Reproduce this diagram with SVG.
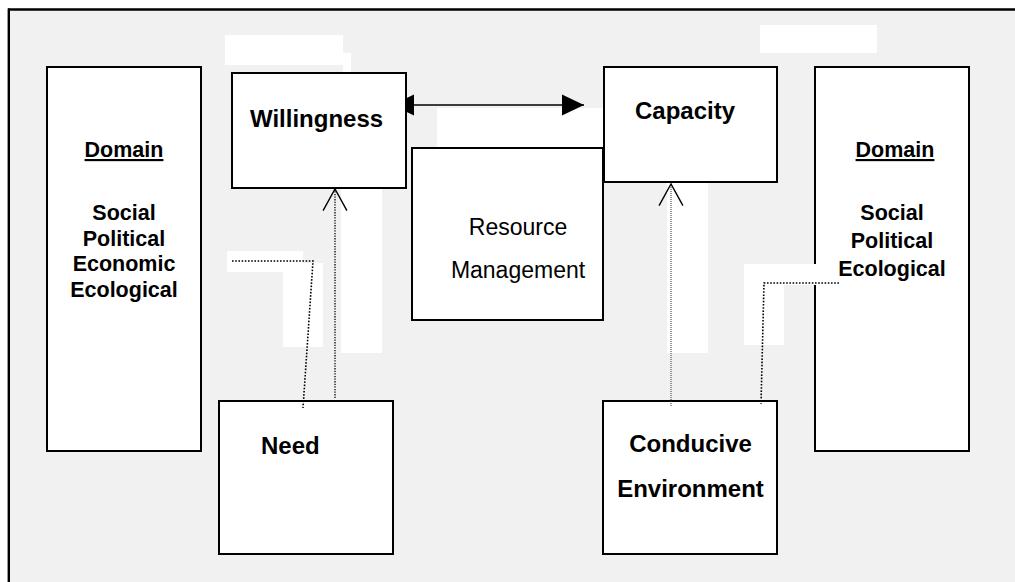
<svg xmlns="http://www.w3.org/2000/svg" width="1015" height="582" viewBox="0 0 1015 582">
  <style>
    .box { fill: #ffffff; stroke: #000000; stroke-width: 2; }
    .pad { fill: #ffffff; stroke: none; }
    .lbl { font-family: "Liberation Sans", Arial, sans-serif; font-weight: bold; font-size: 24px; fill: #000000; }
    .dom { font-family: "Liberation Sans", Arial, sans-serif; font-weight: bold; font-size: 21.5px; fill: #000000; text-anchor: middle; }
    .reg { font-family: "Liberation Sans", Arial, sans-serif; font-size: 23px; fill: #000000; text-anchor: middle; }
    .dot { fill: none; stroke: #000000; stroke-width: 1.6; stroke-dasharray: 1.6 1.6; }
    .dotfine { fill: none; stroke: #000000; stroke-width: 1.3; stroke-dasharray: 1.3 1.3; }
    .dotthin { fill: none; stroke: #333333; stroke-width: 1; stroke-dasharray: 1 1; }
    .solid { fill: none; stroke: #000000; stroke-width: 1.5; }
  </style>
  <defs>
    <marker id="solidHead" markerUnits="userSpaceOnUse" markerWidth="22" markerHeight="22" viewBox="0 0 21 20" refX="21" refY="10" orient="auto-start-reverse">
      <path d="M0,0 L21,10 L0,20 Z" fill="#000000"/>
    </marker>
    <marker id="openHead" markerUnits="userSpaceOnUse" markerWidth="24" markerHeight="26" viewBox="-1 -1 22 24" refX="20" refY="11" orient="auto">
      <path d="M0,0 L20,11 L0,22" fill="none" stroke="#000000" stroke-width="1.3" stroke-dasharray="none"/>
    </marker>
  </defs>

  <!-- page and frame -->
  <rect x="0" y="0" width="1015" height="582" fill="#ffffff"/>
  <rect x="9" y="9.5" width="1006" height="572.5" fill="#f1f1f1"/>
  <line x1="8" y1="9.5" x2="1015" y2="9.5" stroke="#000000" stroke-width="2.3"/>
  <line x1="8.8" y1="8.5" x2="8.8" y2="582" stroke="#000000" stroke-width="2.4"/>

  <!-- white backing panels -->
  <g id="panels">
    <rect class="pad" x="225" y="35" width="118" height="30"/>
    <rect class="pad" x="343" y="53" width="8" height="21"/>
    <rect class="pad" x="341" y="188" width="41" height="165"/>
    <rect class="pad" x="437" y="108" width="166" height="40"/>
    <rect class="pad" x="667" y="182" width="41" height="171"/>
    <rect class="pad" x="760" y="25" width="117" height="28"/>
    <rect class="pad" x="227" y="251" width="76" height="21" stroke="#d8d8d8" stroke-width="1" stroke-dasharray="1 1"/>
    <rect class="pad" x="283" y="263" width="40" height="84"/>
    <rect class="pad" x="744" y="285" width="40" height="60"/>
  </g>

  <!-- domain columns -->
  <g id="domain-left">
    <rect class="box" x="47" y="67" width="154" height="384"/>
    <text class="dom" x="124" y="157" text-decoration="underline">Domain</text>
    <text class="dom" x="124" y="220">Social</text>
    <text class="dom" x="124" y="245.5">Political</text>
    <text class="dom" x="124" y="271">Economic</text>
    <text class="dom" x="124" y="296.5">Ecological</text>
  </g>
  <g id="domain-right">
    <rect class="box" x="815" y="67" width="154" height="384"/>
    <text class="dom" x="895" y="157" text-decoration="underline">Domain</text>
    <text class="dom" x="892" y="220">Social</text>
    <text class="dom" x="892" y="248">Political</text>
    <text class="dom" x="892" y="276">Ecological</text>
  </g>
  <rect class="pad" x="744" y="264" width="72" height="21"/>

  <!-- lower boxes -->
  <g id="need">
    <rect class="box" x="219" y="401" width="174" height="153"/>
    <text class="lbl" x="261" y="454">Need</text>
  </g>
  <g id="conducive-environment">
    <rect class="box" x="603" y="401" width="174" height="153"/>
    <text class="lbl" x="690.5" y="452" text-anchor="middle">Conducive</text>
    <text class="lbl" x="690.5" y="497" text-anchor="middle">Environment</text>
  </g>

  <!-- connectors -->
  <g id="connectors">
    <line class="solid" x1="392" y1="105" x2="584" y2="105" marker-start="url(#solidHead)" marker-end="url(#solidHead)"/>
    <line class="dotfine" x1="335" y1="398" x2="335" y2="189" marker-end="url(#openHead)"/>
    <line class="dotthin" x1="671" y1="406" x2="671" y2="184" marker-end="url(#openHead)"/>
    <polyline class="dot" points="232,261 313,261 303,408"/>
    <polyline class="dot" points="839,283 764,283 761,404"/>
  </g>

  <!-- upper boxes -->
  <g id="willingness">
    <rect class="box" x="232" y="73" width="174" height="115"/>
    <text class="lbl" x="250" y="126.5">Willingness</text>
  </g>
  <g id="resource-management">
    <rect class="box" x="412" y="148" width="191" height="172"/>
    <text class="reg" x="518" y="235">Resource</text>
    <text class="reg" x="518" y="278">Management</text>
  </g>
  <g id="capacity">
    <rect class="box" x="604" y="67" width="173" height="115"/>
    <text class="lbl" x="635" y="119">Capacity</text>
  </g>
</svg>
